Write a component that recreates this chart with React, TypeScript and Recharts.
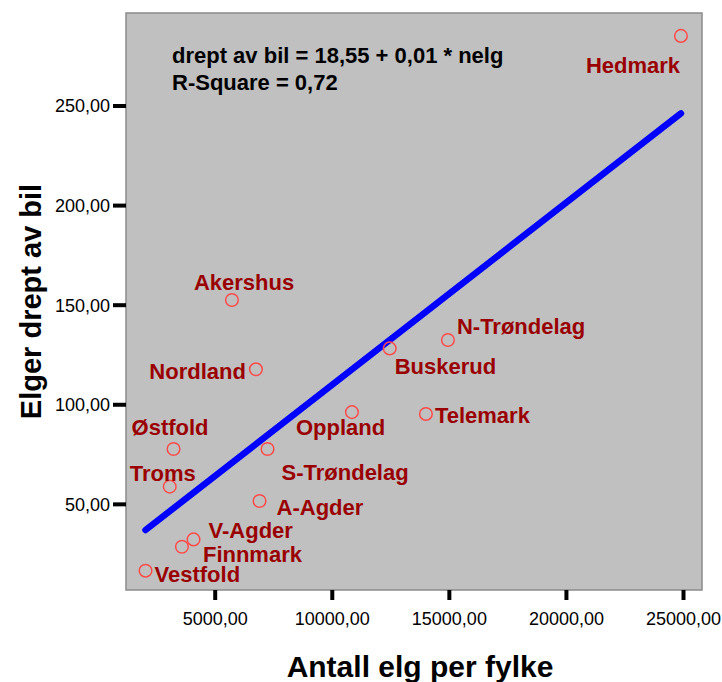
import React from 'react';
import {
  ScatterChart, Scatter, XAxis, YAxis, ReferenceArea,
} from 'recharts';

// counties, moose population (x) and moose killed by cars (y)
const counties = [
  'Hedmark', 'Akershus', 'N-Trøndelag', 'Buskerud', 'Nordland', 'Oppland', 'Telemark',
  'Østfold', 'S-Trøndelag', 'Troms', 'A-Agder', 'V-Agder', 'Finnmark', 'Vestfold',
];
const moosePerCounty = [24890, 5714, 14939, 12453, 6739, 10839, 13999, 3220, 7235, 3058, 6893, 4074, 3579, 2024];
const killedByCar = [285.2, 152.6, 132.5, 128.3, 117.8, 96.3, 95.4, 77.8, 77.8, 58.9, 51.7, 32.4, 28.7, 16.7];

// fitted line end points
const fitMoose = [2024, 24890];
const fitKilled = [37.1, 246.3];

const xTicks = [5000, 10000, 15000, 20000, 25000];
const yTicks = [50, 100, 150, 200, 250];
const xDomain = [1190, 25790];
const yDomain = [7, 296.7];

const equationText = 'drept av bil = 18,55 + 0,01 * nelg';
const rSquareText = 'R-Square = 0,72';

// label placement relative to its circle: dx, dy, anchor
const labelPlace: Record<string, [number, number, 'start' | 'end']> = {
  'Hedmark': [-95, 37, 'start'],
  'Akershus': [-38, -10, 'start'],
  'N-Trøndelag': [9, -6, 'start'],
  'Buskerud': [5, 26, 'start'],
  'Nordland': [-10, 10, 'end'],
  'Oppland': [-56, 23, 'start'],
  'Telemark': [9, 9, 'start'],
  'Østfold': [-42, -14, 'start'],
  'S-Trøndelag': [14, 31, 'start'],
  'Troms': [-40, -6, 'start'],
  'A-Agder': [17, 14, 'start'],
  'V-Agder': [15, -1, 'start'],
  'Finnmark': [21, 15, 'start'],
  'Vestfold': [9, 11, 'start'],
};

const FONT = '"Liberation Sans", Arial, sans-serif';

const points = counties.map((name, i) => ({ name, x: moosePerCounty[i], y: killedByCar[i] }));
const fitData = fitMoose.map((x, i) => ({ x, y: fitKilled[i] }));

const fmt = (v: number) => v.toFixed(2).replace('.', ',');

const CountyMark = (props: any) => {
  const { cx, cy, payload } = props;
  const [dx, dy, anchor] = labelPlace[payload.name] ?? [8, 0, 'start'];
  return (
    <g>
      <circle cx={cx} cy={cy} r={6.3} fill="none" stroke="#ff4a4a" strokeWidth={1.5} />
      <text
        x={cx + dx} y={cy + dy} textAnchor={anchor}
        fill="#9a0000" fontSize={22} fontWeight="bold" fontFamily={FONT}
      >
        {payload.name}
      </text>
    </g>
  );
};

const NoMark = () => <g />;

// equation box in the upper left of the plot
const Annotation = (props: any) => {
  const { viewBox } = props;
  const x = viewBox.x + 46;
  return (
    <g fontSize={22} fontWeight="bold" fontFamily={FONT} fill="#000">
      <text x={x} y={viewBox.y + 50}>{equationText}</text>
      <text x={x} y={viewBox.y + 77}>{rSquareText}</text>
    </g>
  );
};

const XTitle = (props: any) => {
  const { viewBox } = props;
  return (
    <text x={viewBox.x + viewBox.width / 2 + 6} y={677} textAnchor="middle"
      fontSize={30} fontWeight="bold" fontFamily={FONT} fill="#000">
      Antall elg per fylke
    </text>
  );
};

const YTitle = (props: any) => {
  const { viewBox } = props;
  const cy = viewBox.y + viewBox.height / 2;
  return (
    <text x={41} y={cy} textAnchor="middle" transform={`rotate(-90, 41, ${cy})`}
      fontSize={29} fontWeight="bold" fontFamily={FONT} fill="#000">
      Elger drept av bil
    </text>
  );
};

export default function App() {
  return (
    <div style={{ position: 'absolute', left: 0, top: 0, background: '#fff' }}>
      <ScatterChart width={722} height={682} margin={{ top: 13, right: 20, bottom: 0, left: 0 }}>
        <ReferenceArea
          x1={xDomain[0]} x2={xDomain[1]} y1={yDomain[0]} y2={yDomain[1]}
          fill="#c0c0c0" fillOpacity={1} stroke="#8a8a8a" strokeWidth={1.5}
          label={<Annotation />}
        />
        <XAxis
          type="number" dataKey="x" domain={xDomain} ticks={xTicks} allowDataOverflow
          tickFormatter={fmt} axisLine={false}
          tickLine={{ stroke: '#000', strokeWidth: 4 }} tickSize={10} tickMargin={12}
          tick={{ fill: '#000', fontSize: 18, fontFamily: FONT }}
          height={92} label={<XTitle />}
        />
        <YAxis
          type="number" dataKey="y" domain={yDomain} ticks={yTicks} allowDataOverflow
          tickFormatter={fmt} axisLine={false}
          tickLine={{ stroke: '#000', strokeWidth: 4 }} tickSize={13} tickMargin={3}
          tick={{ fill: '#000', fontSize: 18, fontFamily: FONT }}
          width={126} label={<YTitle />}
        />
        <Scatter
          data={fitData} shape={<NoMark />} isAnimationActive={false}
          line={{ stroke: '#0000ff', strokeWidth: 6.5, strokeLinecap: 'round' }}
        />
        <Scatter data={points} shape={<CountyMark />} isAnimationActive={false} />
      </ScatterChart>
    </div>
  );
}
